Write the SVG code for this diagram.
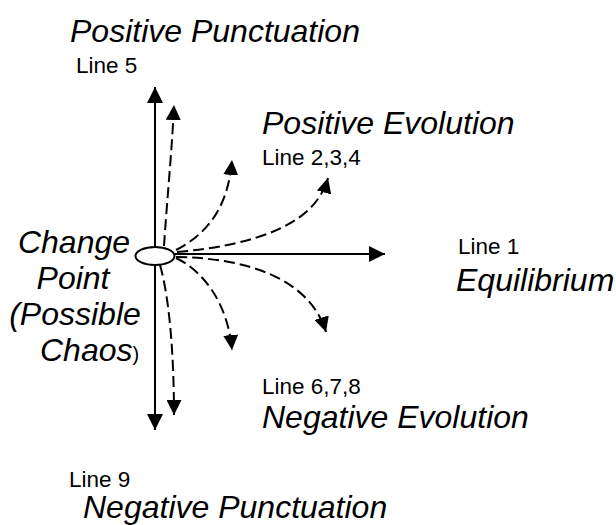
<svg xmlns="http://www.w3.org/2000/svg" width="616" height="525" viewBox="0 0 616 525">
  <style>
    .big { font-family: "Liberation Sans", Arial, sans-serif; font-style: italic; font-size: 32px; fill: #000; }
    .small { font-family: "Liberation Sans", Arial, sans-serif; font-size: 22.5px; fill: #000; }
    .solid { fill: none; stroke: #000; stroke-width: 2; }
    .dash { fill: none; stroke: #000; stroke-width: 2; stroke-dasharray: 11,5; }
  </style>
  <defs>
    <marker id="ah" markerUnits="userSpaceOnUse" markerWidth="16" markerHeight="16" refX="15" refY="7.5" orient="auto" viewBox="0 0 15 15">
      <path d="M0,0 L15,7.5 L0,15 z" fill="#000" stroke="none"/>
    </marker>
    <marker id="ahd" markerUnits="userSpaceOnUse" markerWidth="15" markerHeight="15" refX="14" refY="7" orient="auto" viewBox="0 0 14 14">
      <path d="M0,0 L14,7 L0,14 z" fill="#000" stroke="none"/>
    </marker>
  </defs>

  <g id="connectors">
    <line class="solid" x1="155" y1="256" x2="155" y2="87" marker-end="url(#ah)"/>
    <line class="solid" x1="155" y1="256" x2="155" y2="430" marker-end="url(#ah)"/>
    <line class="solid" x1="174" y1="254" x2="385" y2="254" marker-end="url(#ah)"/>
    <path class="dash" d="M164,246 C167,200 172,150 174,105" marker-end="url(#ahd)"/>
    <path class="dash" d="M160,265 C170,300 174,360 174,415" marker-end="url(#ahd)"/>
    <path class="dash" d="M176,250 C205,235 228,210 232,160" marker-end="url(#ahd)"/>
    <path class="dash" d="M177,252 C255,245 315,225 328,178" marker-end="url(#ahd)"/>
    <path class="dash" d="M176,258 C205,272 228,305 232,350" marker-end="url(#ahd)"/>
    <path class="dash" d="M176,257 C250,258 310,280 326,332" marker-end="url(#ahd)"/>
  </g>

  <g id="change-point">
    <ellipse cx="155" cy="256" rx="19.5" ry="9" fill="#fff" stroke="#000" stroke-width="2"/>
    <text class="big" x="74" y="253" text-anchor="middle">Change</text>
    <text class="big" x="73" y="289" text-anchor="middle">Point</text>
    <text class="big" x="75" y="325" text-anchor="middle">(Possible</text>
    <text x="40" y="361"><tspan class="big">Chaos</tspan><tspan style="font-family:'Liberation Sans',Arial,sans-serif;font-size:20px">)</tspan></text>
  </g>

  <g id="positive-punctuation">
    <text class="big" x="70" y="42">Positive Punctuation</text>
    <text class="small" x="76" y="73">Line 5</text>
  </g>

  <g id="positive-evolution">
    <text class="big" x="262" y="134">Positive Evolution</text>
    <text class="small" x="262" y="165">Line 2,3,4</text>
  </g>

  <g id="equilibrium">
    <text class="small" x="458" y="254">Line 1</text>
    <text class="big" x="456" y="291">Equilibrium</text>
  </g>

  <g id="negative-evolution">
    <text class="small" x="262" y="394">Line 6,7,8</text>
    <text class="big" x="262" y="428">Negative Evolution</text>
  </g>

  <g id="negative-punctuation">
    <text class="small" x="69" y="487">Line 9</text>
    <text class="big" x="83" y="518">Negative Punctuation</text>
  </g>
</svg>
